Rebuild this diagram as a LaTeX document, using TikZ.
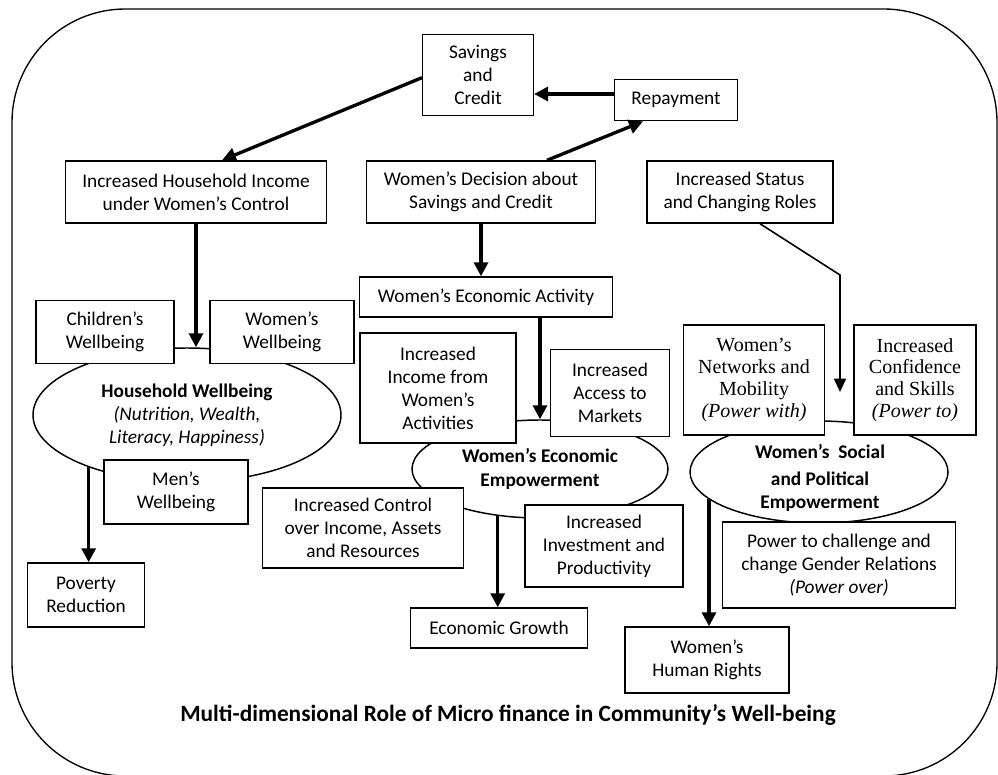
\documentclass[tikz,border=0pt]{standalone}
\usepackage{fontspec}
\setmainfont{Carlito}
\newfontfamily\boxserif{Liberation Serif}
\usetikzlibrary{arrows.meta,shapes.geometric}

\begin{document}
\begin{tikzpicture}[x=0.75pt,y=-0.75pt,
    font=\fontsize{14.5}{17.3}\selectfont,
    box/.style={draw,line width=1.1pt,fill=white,align=center,inner sep=0pt},
    serifbox/.style={box,font=\boxserif\fontsize{15}{16.3}\selectfont},
    blob/.style={draw,ellipse,line width=1.1pt,fill=white,align=center,inner sep=0pt},
    arr/.style={line width=2.5pt,-{Triangle[length=10.5pt,width=10.5pt]}},
    thinarr/.style={line width=1.2pt,-{Triangle[length=10pt,width=9pt]}}]

    \useasboundingbox (0,0) rectangle (998,774);
    % Outer frame
    \draw[line width=1pt,rounded corners=85pt] (12,9) rectangle (997,776);

    % Empowerment ellipses
    \node[blob,minimum width=231pt,minimum height=100.5pt] (hhw) at (187,415)
        {\textbf{Household Wellbeing}\\\textit{(Nutrition, Wealth,}\\\textit{Literacy, Happiness)}};
    \node[blob,minimum width=192pt,minimum height=73.5pt] (econ) at (540,469)
        {\textbf{Women’s Economic}\\\textbf{Empowerment}};
    \node[blob,minimum width=193.5pt,minimum height=76.5pt] (soc) at (819,472) {};
    \node[align=center,font=\bfseries\fontsize{14.5}{17.3}\selectfont] (soctext) at (820,478)
        {Women’s\ \ Social\\[3pt]and Political\\Empowerment};

    % Top row
    \node[box,minimum width=83pt,minimum height=61pt] (sav) at (478,75) {Savings\\and\\Credit};
    \node[box,minimum width=92pt,minimum height=31pt] (rep) at (676,100) {Repayment};
    \node[box,minimum width=196pt,minimum height=46.5pt] (hhinc) at (196,192) {Increased Household Income\\under Women’s Control};
    \node[box,minimum width=172pt,minimum height=46.5pt] (dec) at (481,192) {Women’s Decision about\\Savings and Credit};
    \node[box,minimum width=139.5pt,minimum height=46.5pt] (status) at (740,192) {Increased Status\\and Changing Roles};

    % Household side
    \node[box,minimum width=103.5pt,minimum height=47pt] (child) at (105,332) {Children’s\\Wellbeing};
    \node[box,minimum width=108pt,minimum height=47pt] (wwell) at (282,332) {Women’s\\Wellbeing};
    \node[box,minimum width=108pt,minimum height=48pt] (men) at (176,492) {Men’s\\Wellbeing};
    \node[box,minimum width=88pt,minimum height=48pt] (pov) at (86,595) {Poverty\\Reduction};

    % Economic side
    \node[box,minimum width=190pt,minimum height=30pt] (act) at (486,297) {Women’s Economic Activity};
    \node[box,minimum width=117pt,minimum height=82.5pt] (incfrom) at (438,388) {Increased\\Income from\\Women’s\\Activities};
    \node[box,minimum width=89pt,minimum height=65pt] (access) at (610,393) {Increased\\Access to\\Markets};
    \node[box,minimum width=151pt,minimum height=60pt] (control) at (363,528) {Increased Control\\over Income, Assets\\and Resources};
    \node[box,minimum width=118.5pt,minimum height=61.5pt] (invest) at (604,546) {Increased\\Investment and\\Productivity};
    \node[box,minimum width=133pt,minimum height=30pt] (growth) at (499,628) {Economic Growth};

    % Social side
    \node[serifbox,minimum width=106pt,minimum height=82.5pt] (netw) at (754,380) {Women’s\\Networks and\\Mobility\\\textit{(Power with)}};
    \node[serifbox,minimum width=91.5pt,minimum height=82.5pt] (conf) at (915,380) {Increased\\Confidence\\and Skills\\\textit{(Power to)}};
    \node[box,minimum width=175pt,minimum height=64.5pt] (power) at (839,565) {Power to challenge and\\change Gender Relations\\\textit{(Power over)}};
    \node[box,minimum width=123pt,minimum height=49.5pt] (rights) at (707,660) {Women’s\\Human Rights};

    % Title
    \node[font=\bfseries\fontsize{17.5}{20}\selectfont] (title) at (508,715)
        {Multi-dimensional Role of Micro finance in Community’s Well-being};

    % Savings and credit loop
    \draw[arr] ([yshift=4.5pt]rep.west) -- ([yshift=4.5pt]rep.west -| sav.east);
    \draw[arr] ([yshift=-2pt]sav.west) -- ([xshift=19.5pt]hhinc.north);
    \draw[arr] ([xshift=49.5pt]dec.north) -- ([xshift=-24.75pt]rep.south);

    % Household wellbeing
    \draw[arr] (hhinc.south) -- (hhinc.south |- hhw.north);
    \draw[arr] (hhw.208) -- (hhw.208 |- pov.north);

    % Economic empowerment
    \draw[arr] (dec.south) -- (dec.south |- act.north);
    \draw[arr] (act.south -| econ.north) -- (econ.north);
    \draw[arr] (econ.228) -- (econ.228 |- growth.north);

    % Social and political empowerment
    \coordinate (bend) at (840,275);
    \coordinate (socin) at (840,392);
    \draw[thinarr] ([xshift=15pt]status.south) -- (bend) -- (socin);
    \draw[arr] (soc.194) -- (soc.194 |- rights.north);
\end{tikzpicture}
\end{document}
